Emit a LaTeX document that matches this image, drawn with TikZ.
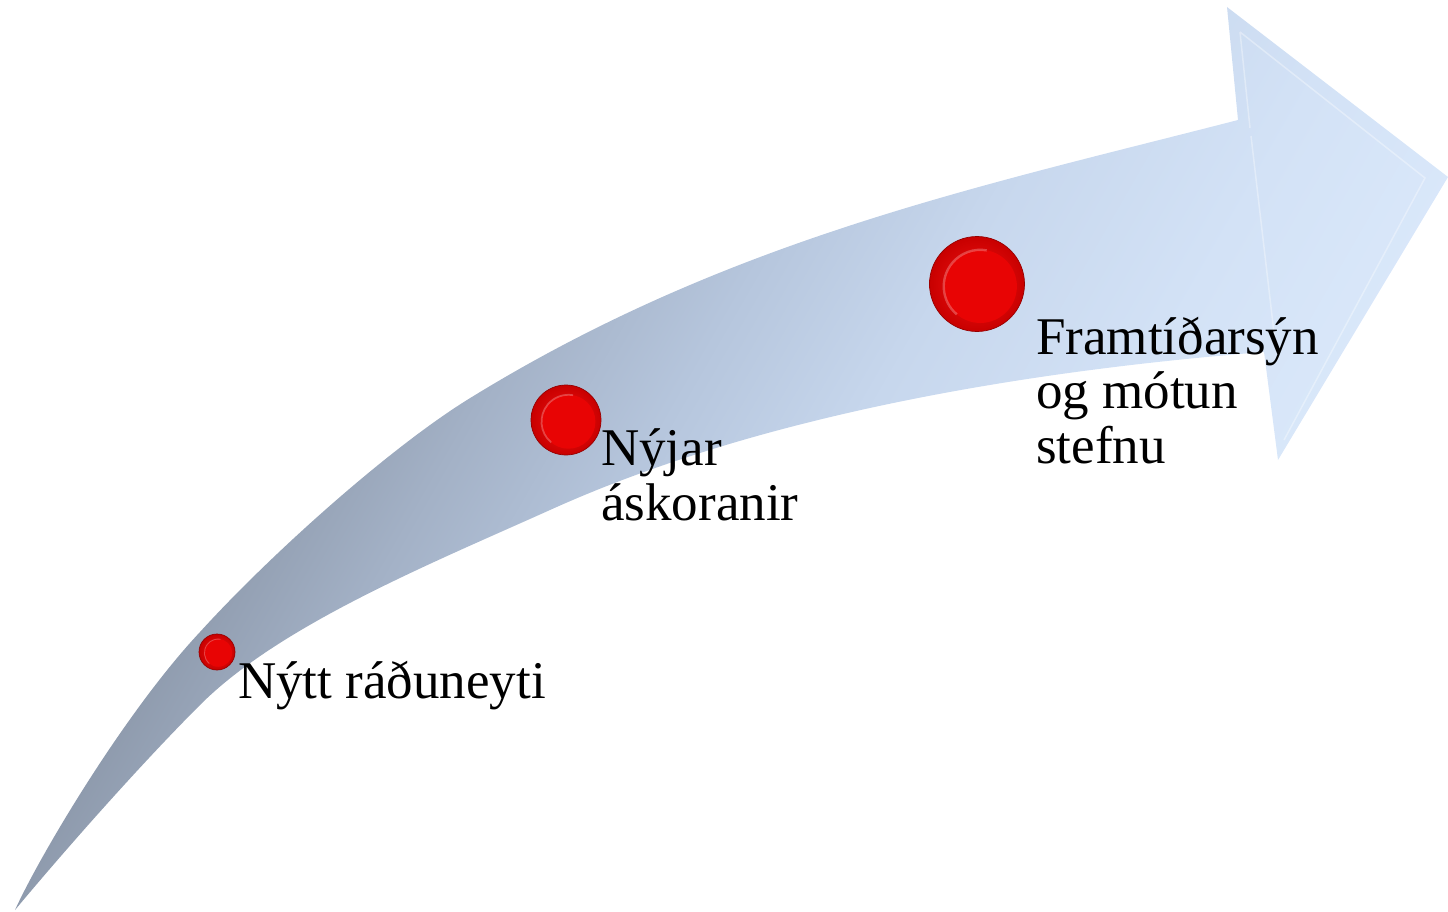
\documentclass[tikz,border=0pt]{standalone}
\usepackage{fontspec}
\setmainfont{Liberation Serif}
\definecolor{fadeA}{RGB}{100,112,130}
\definecolor{fadeB}{RGB}{140,152,170}
\definecolor{fadeC}{RGB}{163,177,198}
\definecolor{fadeD}{RGB}{182,198,221}
\definecolor{fadeE}{RGB}{199,215,237}
\definecolor{fadeF}{RGB}{211,226,246}
\definecolor{fadeG}{RGB}{219,233,251}
\definecolor{balledge}{RGB}{150,0,0}
\definecolor{ballin}{RGB}{245,20,20}
\definecolor{ballout}{RGB}{200,0,0}
\definecolor{ballcore}{RGB}{232,4,4}
\pgfdeclarehorizontalshading{arrowfade}{100bp}{color(0bp)=(fadeA); color(25bp)=(fadeA); color(33bp)=(fadeB); color(40bp)=(fadeC); color(47bp)=(fadeD); color(54bp)=(fadeE); color(63bp)=(fadeF); color(72bp)=(fadeG); color(100bp)=(fadeG)}
\tikzset{
  ball/.style={circle, inner sep=0pt, draw=balledge, line width=0.7pt, inner color=ballin, outer color=ballout},
  lbl/.style={inner sep=0pt, anchor=north west, align=left, font=\fontsize{53}{54.5}\selectfont}
}
\begin{document}
\begin{tikzpicture}[x=1pt,y=-1pt]
\useasboundingbox (0,0) rectangle (1448,912);

% curved arrow
\shade[shading=arrowfade, shading angle=-30]
  (15,910) .. controls (40,855) and (125,712) .. (200,632)
  .. controls (270,555) and (387,450) .. (467,400)
  .. controls (727,239) and (978,187) .. (1238,120)
  -- (1227,7) -- (1448,177) -- (1278,460) -- (1264,352)
  .. controls (1024,371) and (760,415) .. (550,510)
  .. controls (430,564) and (280,625) .. (200,705)
  .. controls (140,765) and (65,850) .. (15,910) -- cycle;
\draw[white, opacity=0.35, line width=1.5pt] (1240,32) -- (1250,128) (1251,136) -- (1276,350) (1284,440) -- (1425,178) -- (1240,32);

% milestones
\node[ball, minimum size=36pt] (dotA) at (217,652) {};
\node[ball, minimum size=70pt] (dotB) at (566,420) {};
\node[ball, minimum size=95pt] (dotC) at (977,284) {};
\foreach \d/\r in {dotA/18,dotB/35,dotC/47.5} {
  \fill[ballcore] ([shift={(0.07*\r,0.05*\r)}]\d.center) circle (0.77*\r);
  \draw[white, opacity=0.25, line width=0.05*\r] ([shift={(0.07*\r,0.05*\r)}]\d.center) ++(-230:0.77*\r) arc[start angle=-230, end angle=-80, radius=0.77*\r];
}

\node[lbl] (txtA) at (238,660.5) {Nýtt ráðuneyti};
\node[lbl] (txtB) at (601,428.5) {Nýjar\\áskoranir};
\node[lbl] (txtC) at (1036,316.5) {Framtíðarsýn\\og mótun\\stefnu};
\end{tikzpicture}
\end{document}
